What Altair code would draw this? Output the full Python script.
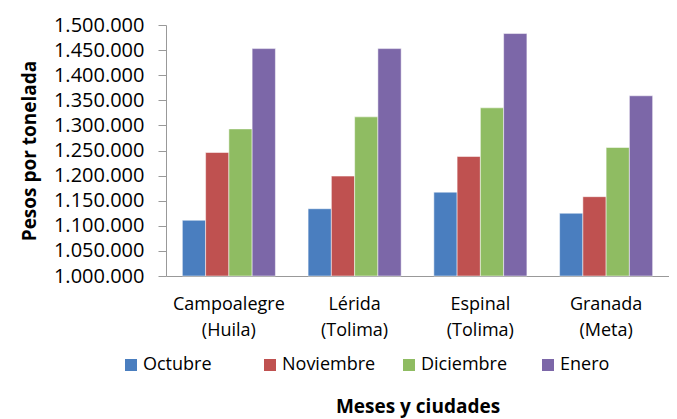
import altair as alt
import pandas as pd

ciudades = ["Campoalegre\n(Huila)", "Lérida\n(Tolima)", "Espinal\n(Tolima)", "Granada\n(Meta)"]
meses = ["Octubre", "Noviembre", "Diciembre", "Enero"]
octubre = [1111000, 1134000, 1167000, 1125000]
noviembre = [1246000, 1199000, 1238000, 1158000]
diciembre = [1293000, 1317000, 1335000, 1256000]
enero = [1453000, 1453000, 1483000, 1359000]
colores = ["#4A7EBF", "#BF5150", "#8FBC62", "#7C67A8"]
y_ticks = [1000000 + 50000 * i for i in range(11)]

rows = []
for serie, vals in zip(meses, [octubre, noviembre, diciembre, enero]):
    for c, v in zip(ciudades, vals):
        rows.append({"ciudad": c, "mes": serie, "valor": v})
df = pd.DataFrame(rows)

FONT = "Open Sans"

chart = alt.Chart(df).mark_bar(stroke="white", strokeWidth=0.5).encode(
    x=alt.X("ciudad:N", sort=ciudades, title="Meses y ciudades",
            scale=alt.Scale(paddingInner=0.26, paddingOuter=0.13),
            axis=alt.Axis(labelAngle=0, labelExpr="split(datum.label, '\\n')",
                          labelFontSize=18, labelPadding=19, labelLineHeight=26,
                          labelColor="#000", ticks=False, domainColor="#999",
                          titleFontSize=19, titleFontWeight="bold", titlePadding=58,
                          titleColor="#000", labelFont=FONT, titleFont=FONT)),
    xOffset=alt.XOffset("mes:N", sort=meses),
    y=alt.Y("valor:Q", title="Pesos por tonelada",
            scale=alt.Scale(domain=[1000000, 1500000], zero=False, nice=False),
            axis=alt.Axis(values=y_ticks, grid=False, tickSize=8, tickColor="#999",
                          domainColor="#999", labelFontSize=20, labelPadding=14,
                          labelColor="#000",
                          labelExpr="replace(replace(format(datum.value, ','), ',', '.'), ',', '.')",
                          titleFontSize=19, titleFontWeight="bold", titlePadding=14,
                          titleColor="#000", labelFont=FONT, titleFont=FONT)),
    y2=alt.datum(1000000),
    color=alt.Color("mes:N", sort=meses, title=None,
                    scale=alt.Scale(domain=meses, range=colores),
                    legend=alt.Legend(orient="none", legendX=-44, legendY=331,
                                      direction="horizontal", columns=4,
                                      symbolType="square", symbolSize=144,
                                      symbolStrokeWidth=0, labelFontSize=18,
                                      labelColor="#000", labelFont=FONT,
                                      gridAlign="all", columnPadding=24,
                                      labelOffset=3)),
).properties(
    width=503, height=251,
    padding={"left": 158, "top": 17, "right": 0, "bottom": 142},
    autosize=alt.AutoSizeParams(type="none"),
).configure_view(stroke=None)

chart.save("out.html", embed_options={"renderer": "svg", "actions": False})
